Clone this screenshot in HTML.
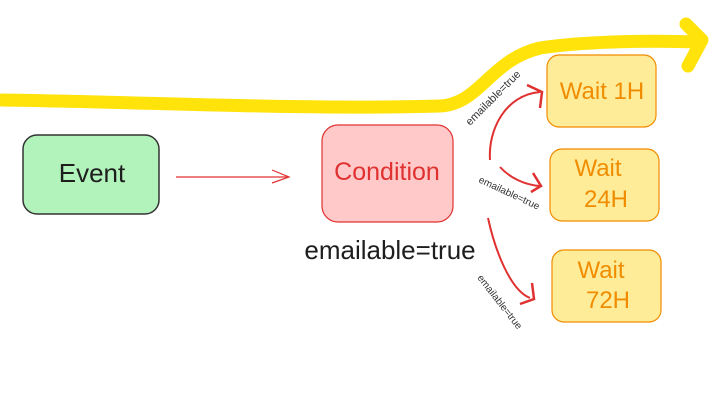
<!DOCTYPE html>
<html><head><meta charset="utf-8"><style>
html,body{margin:0;padding:0;background:#fff;}
svg text{font-family:"Liberation Sans",sans-serif;}
</style></head><body>
<svg width="713" height="402" viewBox="0 0 713 402" xmlns="http://www.w3.org/2000/svg">
<rect width="713" height="402" fill="#fff"/>
<path d="M2,100 C150,102 300,110 440,106 C480,104 490,60 540,48 C580,42 640,40 700,42" fill="none" stroke="#ffe30a" stroke-width="13" stroke-linecap="round"/>
<path d="M686,24 L702,40 L688,66" fill="none" stroke="#ffe30a" stroke-width="13" stroke-linecap="round" stroke-linejoin="round"/>
<rect x="23" y="135" width="136" height="79" rx="14" fill="#b2f2bb" stroke="#333" stroke-width="1.5"/>
<text x="92" y="182" font-size="26" text-anchor="middle" fill="#1e1e1e">Event</text>
<line x1="176" y1="177" x2="288" y2="177" stroke="#e03131" stroke-width="1.2"/>
<path d="M272,170 L289,177 L272,183" fill="none" stroke="#e03131" stroke-width="1.2"/>
<rect x="322" y="125" width="131" height="97" rx="16" fill="#ffc9c9" stroke="#e03131" stroke-width="1.2"/>
<text x="387" y="180" font-size="25" text-anchor="middle" fill="#e03131">Condition</text>
<text x="390" y="259" font-size="26" text-anchor="middle" fill="#1e1e1e">emailable=true</text>
<path d="M490,160 C488,130 505,95 540,92" fill="none" stroke="#e03131" stroke-width="2"/>
<path d="M527,85 L542,92 L540,108" fill="none" stroke="#e03131" stroke-width="2.5"/>
<path d="M500,167 C510,178 525,185 540,186" fill="none" stroke="#e03131" stroke-width="2"/>
<path d="M533,173 L541,186 L531,192" fill="none" stroke="#e03131" stroke-width="2.5"/>
<path d="M488,218 C495,250 510,290 530,298" fill="none" stroke="#e03131" stroke-width="2"/>
<path d="M532,283 L534,299 L520,304" fill="none" stroke="#e03131" stroke-width="2.5"/>
<text x="470" y="126" font-size="11" fill="#333" transform="rotate(-45 470 126)">emailable=true</text>
<text x="478" y="182" font-size="10" fill="#333" transform="rotate(25 478 182)">emailable=true</text>
<text x="477" y="278" font-size="10" fill="#333" transform="rotate(52 477 278)">emailable=true</text>
<rect x="547" y="55" width="109" height="72" rx="12" fill="#ffec99" stroke="#f08c00" stroke-width="1.2"/>
<text x="602" y="99" font-size="24" text-anchor="middle" fill="#f08c00">Wait 1H</text>
<rect x="550" y="149" width="109" height="72" rx="12" fill="#ffec99" stroke="#f08c00" stroke-width="1.2"/>
<text x="598" y="176" font-size="24" text-anchor="middle" fill="#f08c00">Wait</text>
<text x="606" y="207" font-size="24" text-anchor="middle" fill="#f08c00">24H</text>
<rect x="552" y="250" width="109" height="72" rx="12" fill="#ffec99" stroke="#f08c00" stroke-width="1.2"/>
<text x="601" y="278" font-size="24" text-anchor="middle" fill="#f08c00">Wait</text>
<text x="608" y="308" font-size="24" text-anchor="middle" fill="#f08c00">72H</text>
</svg>
</body></html>
